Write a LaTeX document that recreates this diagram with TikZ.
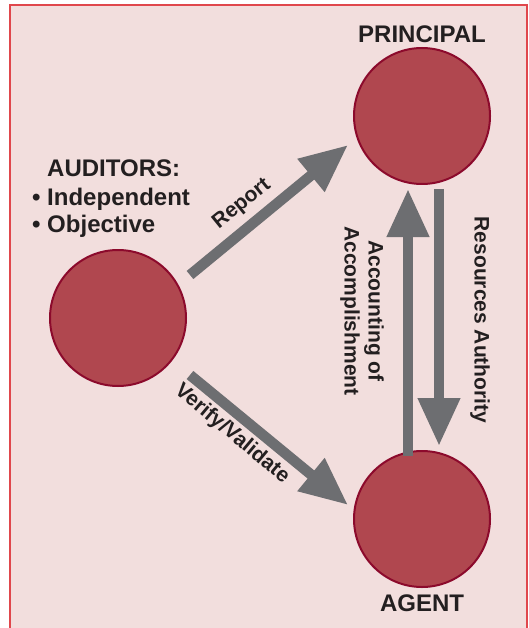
\documentclass[tikz,border=0pt]{standalone}
\usepackage{fontspec}
\setmainfont{Liberation Sans}
\usetikzlibrary{arrows.meta,calc}
\definecolor{panel}{HTML}{F2DEDD}
\definecolor{frame}{HTML}{E0474C}
\definecolor{disc}{HTML}{B0474F}
\definecolor{discedge}{HTML}{8C0A2C}
\definecolor{arrowgray}{HTML}{6D6E71}
\definecolor{ink}{HTML}{231F20}
\tikzset{
  party/.style={circle,minimum size=136pt,inner sep=0pt,fill=disc,draw=discedge,line width=2pt},
  title/.style={font=\fontsize{24}{28}\selectfont\bfseries,text=ink,inner sep=0pt},
  lbl/.style={font=\fontsize{21}{24}\selectfont\bfseries,text=ink,inner sep=0pt},
  bigarrow/.style={draw=arrowgray,line width=10.5pt,-{Triangle[length=48pt,width=40pt]}},
}
\begin{document}
\begin{tikzpicture}[x=1pt,y=-1pt]
\useasboundingbox (0,0) rectangle (528,628);
\fill[white] (0,0) rectangle (528,628);
\draw[frame,fill=panel,line width=1.5pt] (10,5) rectangle (527,650);

\node[party] (aud) at (118,318) {};
\node[party] (prin) at (422,116) {};
\node[party] (agt) at (422,519) {};

\node[title,anchor=base] (ptxt) at (422,43) {PRINCIPAL};
\node[title,anchor=base] (atxt) at (422,611) {AGENT};
\node[title,anchor=base west] (audtxt) at (47,177) {AUDITORS:};
\node[title,anchor=base west] (ind) at (32,205) {\textbullet\ Independent};
\node[title,anchor=base west] (obj) at (32,233) {\textbullet\ Objective};

\draw[bigarrow] ($(aud.center)+(72,-43)$) -- ($(prin.center)+(-74,29)$);
\draw[bigarrow] ($(aud.center)+(72,57)$) -- ($(agt.center)+(-74,-14)$);
\draw[bigarrow] ($(agt.north)+(-14,6)$) -- ($(prin.south)+(-14,4)$);
\draw[bigarrow] ($(prin.south)+(17,4)$) -- ($(agt.north)+(17,-4)$);

\node[lbl,rotate=39] (rep) at (242,204) {Report};
\node[lbl,rotate=-40] (ver) at (232,434) {Verify/Validate};
\node[lbl,rotate=-90] (res) at (480,320) {Resources Authority};
\node[lbl,rotate=-90,align=center] (acc) at (362,311) {Accounting of\\Accomplishment};
\end{tikzpicture}
\end{document}
